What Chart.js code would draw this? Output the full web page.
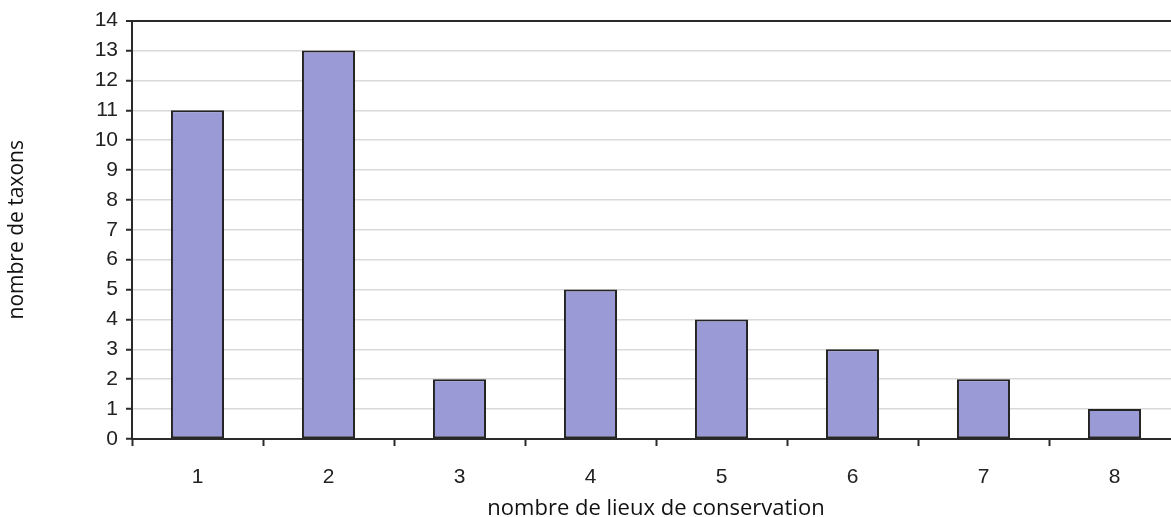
<!DOCTYPE html>
<html>
<head>
<meta charset="utf-8">
<script src="https://cdn.jsdelivr.net/npm/chart.js@4.4.0/dist/chart.umd.min.js"></script>
<style>
html, body { margin: 0; padding: 0; background: #fff; overflow: hidden; }
#wrap { width: 1190px; height: 522px; }
</style>
</head>
<body>
<div id="wrap"><canvas id="chart" width="1190" height="522"></canvas></div>
<script>
// nombre de lieux de conservation -> nombre de taxons
var categories = ["1", "2", "3", "4", "5", "6", "7", "8"];
var taxons = [11, 13, 2, 5, 4, 3, 2, 1];
var yMax = 14;

var axisDark = "#2a2a2a";
var gridLight = "#d9d9d9";
var tickFont = { family: "'Liberation Sans', Arial, sans-serif", size: 21 };

new Chart(document.getElementById("chart"), {
	type: "bar",
	data: {
		labels: categories,
		datasets: [{
			data: taxons,
			backgroundColor: "#9a9ad6",
			borderColor: "#242424",
			borderWidth: 2,
			borderSkipped: false,
			barPercentage: 0.405,
			categoryPercentage: 1
		}]
	},
	options: {
		responsive: false,
		animation: false,
		layout: { padding: { top: 20, right: 10, left: 0, bottom: 0 } },
		plugins: {
			legend: { display: false },
			tooltip: { enabled: false }
		},
		scales: {
			x: {
				grid: {
					offset: true,
					drawOnChartArea: false,
					tickColor: axisDark,
					tickLength: 7,
					tickWidth: 2
				},
				border: { color: axisDark, width: 2 },
				ticks: { color: "#222", font: tickFont, padding: 19 },
				title: {
					display: true,
					text: "nombre de lieux de conservation",
					color: "#111",
					font: { family: "'Open Sans', sans-serif", size: 22 },
					padding: { top: 0, bottom: 0 }
				},
				afterFit: function(scale) { scale.height = 83; }
			},
			y: {
				min: 0,
				max: yMax,
				ticks: { stepSize: 1, color: "#222", font: tickFont, padding: 8 },
				grid: {
					color: function(ctx) {
						return ctx.tick && ctx.tick.value === yMax ? axisDark : gridLight;
					},
					lineWidth: function(ctx) {
						return ctx.tick && ctx.tick.value === yMax ? 2 : 1.5;
					},
					tickColor: axisDark,
					tickLength: 6,
					tickWidth: 2
				},
				border: { color: axisDark, width: 2 },
				title: {
					display: true,
					text: "nombre de taxons",
					color: "#111",
					font: { family: "'Open Sans', sans-serif", size: 21 },
					padding: { top: 4, bottom: 0 }
				},
				afterFit: function(scale) { scale.width = 132; }
			}
		}
	}
});
</script>
</body>
</html>
